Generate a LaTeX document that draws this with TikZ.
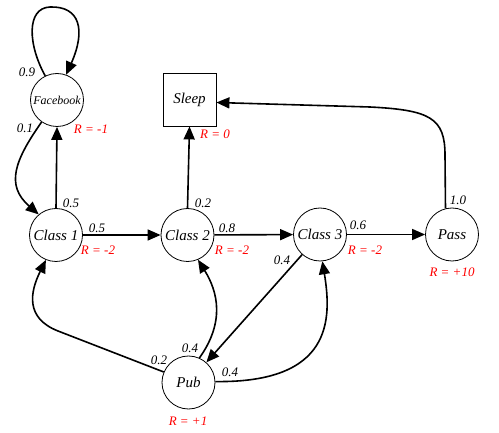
\documentclass[tikz,border=0pt]{standalone}
\usepackage{fontspec}
\setmainfont{Liberation Serif}
\newfontfamily\tnrfont{Liberation Serif}
\usetikzlibrary{arrows.meta}
\begin{document}
\begin{tikzpicture}[x=1pt,y=-1pt,
  state/.style={circle,draw,line width=0.8pt,minimum size=53pt,inner sep=0pt,font=\tnrfont\fontsize{15}{18}\selectfont\itshape},
  sq/.style={rectangle,draw,line width=0.8pt,minimum size=53pt,inner sep=0pt,font=\tnrfont\fontsize{15}{18}\selectfont\itshape},
  edge/.style={line width=1.6pt,-{Triangle[length=13pt,width=11pt]}},
  prob/.style={inner sep=0pt,font=\tnrfont\fontsize{13}{15}\selectfont\itshape},
  rew/.style={prob,text=red}]
\useasboundingbox (0,0) rectangle (499,433);

\node[state,font=\tnrfont\fontsize{12}{14}\selectfont\itshape] (fb) at (57,100) {Facebook};
\node[sq] (sleep) at (189.5,99.5) {Sleep};
\node[state] (c1) at (56,235) {Class 1};
\node[state] (c2) at (187.5,235) {Class 2};
\node[state] (c3) at (320,234.5) {Class 3};
\node[state] (pass) at (452,234.5) {Pass};
\node[state] (pub) at (188.5,382.5) {Pub};

% rewards
\node[rew] (r1) at (91,129) {R = -1};
\node[rew] (r0) at (215,134) {R = 0};
\node[rew] (rc1) at (98,250) {R = -2};
\node[rew] (rc2) at (232,250) {R = -2};
\node[rew] (rc3) at (365,250) {R = -2};
\node[rew] (rp) at (452,272) {R = +10};
\node[rew] (rpub) at (188,421) {R = +1};

% probabilities
\node[prob] (p1) at (27,72) {0.9};
\node[prob] (p2) at (25,128) {0.1};
\node[prob] (p3) at (71,203) {0.5};
\node[prob] (p4) at (97,228) {0.5};
\node[prob] (p5) at (203,203) {0.2};
\node[prob] (p6) at (227,228) {0.8};
\node[prob] (p7) at (358,225) {0.6};
\node[prob] (p8) at (282,260) {0.4};
\node[prob] (p9) at (458,200) {1.0};
\node[prob] (p10) at (159,360) {0.2};
\node[prob] (p11) at (190,348) {0.4};
\node[prob] (p12) at (230,372) {0.4};

% edges
\draw[edge] (fb.116) .. controls (28,45) and (26,8) .. (50,7) .. controls (80,6) and (86,30) .. (fb.70);
\draw[edge] (fb.235) .. controls (15,160) and (5,185) .. (c1.130);
\draw[edge] (c1.north) -- (fb.south);
\draw[edge] (c1) -- (c2);
\draw[edge] (c2.north) -- (sleep.south);
\draw[edge] (c2) -- (c3);
\draw[edge] (c3) -- (pass);
\draw[edge] (pass.104) -- (445,155) .. controls (445,118) and (430,110) .. (370,107) -- ([yshift=-3pt]sleep.east);
\draw[edge] (c3) -- (pub);
\draw[edge] (pub.157) -- (58,331) .. controls (25,318) and (30,292) .. (c1.248);
\draw[edge] (pub.66) .. controls (225,322) and (218,292) .. (c2.293);
\draw[edge] (pub.2) .. controls (332,383) and (332,320) .. (c3.275);
\end{tikzpicture}
\end{document}
